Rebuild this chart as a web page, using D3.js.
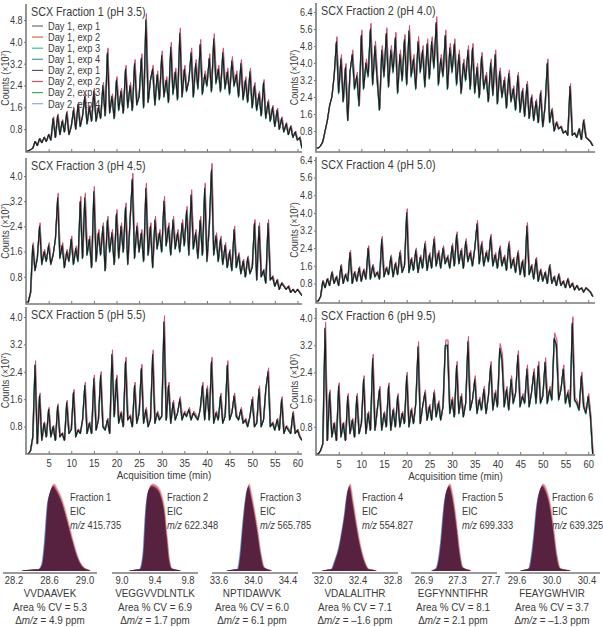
<!DOCTYPE html>
<html>
<head>
<meta charset="utf-8">
<script src="https://cdn.jsdelivr.net/npm/d3@7"></script>
<style>
  body { margin: 0; background: #fff; }
  svg { display: block; font-family: "Liberation Sans", Arial, sans-serif; }
  text { fill: #3a3a3a; }
</style>
</head>
<body>
<div id="chart"></div>
<script>
// TIC traces, one value every 0.5 min from 0 to 61 min (counts x10^7)
const timeStep = 0.5;
const fraction1 = [
  0, 0, 0.05, 0.1, 0.35, 0.2, 0.45, 0.3, 0.5, 0.35,
  0.6, 0.4, 1.2, 0.5, 1.3, 0.6, 1.1, 0.7, 1.4, 0.6,
  0.9, 1.5, 0.8, 1.7, 0.9, 1.3, 2.0, 1.0, 1.6, 1.1,
  2.2, 1.1, 1.6, 1.2, 2.4, 1.3, 3.6, 1.4, 2.0, 1.2,
  2.6, 1.5, 2.2, 1.4, 3.0, 1.6, 2.4, 1.5, 3.2, 1.7,
  2.0, 3.4, 1.6, 4.8, 1.8, 2.6, 3.0, 1.7, 2.8, 1.9,
  3.5, 2.0, 2.6, 1.8, 3.8, 2.1, 2.9, 1.9, 4.3, 2.0,
  3.0, 2.2, 2.6, 3.6, 2.0, 3.2, 2.3, 3.9, 2.1, 2.8,
  2.4, 3.4, 2.2, 4.1, 2.5, 3.0, 2.2, 3.6, 2.3, 2.9,
  2.1, 3.3, 2.4, 2.8, 2.0, 3.2, 1.9, 2.6, 1.8, 2.9,
  1.6, 2.4, 1.5, 2.1, 1.3, 2.5, 1.2, 1.8, 1.1, 1.6,
  0.9, 1.5, 0.8, 1.2, 0.7, 1.0, 0.6, 0.9, 0.5, 0.7,
  0.4, 0.5, 0.1
];
const fraction2 = [
  0, 0, 0.1, 0.3, 0.8, 1.3, 2.0, 2.4, 3.4, 5.0,
  2.6, 4.2, 2.2, 3.8, 1.3, 3.6, 4.4, 2.8, 3.4, 2.0,
  5.3, 2.8, 4.0, 3.4, 5.6, 3.0, 4.8, 3.2, 1.8, 4.6,
  3.4, 5.4, 2.9, 4.6, 3.6, 5.2, 2.6, 4.4, 3.2, 5.1,
  3.0, 5.5, 3.4, 4.2, 2.8, 5.0, 3.6, 4.6, 2.9, 4.9,
  3.3, 5.0, 3.8, 5.9, 3.0, 4.2, 3.4, 5.3, 2.8, 4.7,
  3.6, 4.9, 3.0, 4.4, 2.6, 4.0, 3.2, 4.6, 2.8, 4.7,
  2.6, 3.8, 2.4, 4.3, 2.8, 3.4, 2.2, 4.0, 2.5, 4.4,
  2.1, 3.6, 2.4, 3.2, 1.9, 3.5, 2.2, 2.8, 1.8, 3.4,
  1.7, 2.7, 1.5, 3.0, 1.4, 2.4, 1.3, 2.2, 1.2, 2.6,
  1.0, 2.0, 4.0, 1.2, 1.8, 0.8, 1.2, 0.9, 1.0, 0.7,
  0.8, 0.6, 2.9, 0.6, 0.7, 0.5, 0.9, 0.4, 1.3, 0.5,
  0.4, 0.3, 0.1
];
const fraction3 = [
  0, 0, 0.3, 1.8, 1.0, 1.4, 2.4, 1.2, 1.6, 1.3,
  1.8, 1.2, 1.5, 2.0, 3.3, 1.4, 1.8, 1.1, 1.6, 1.3,
  2.0, 1.2, 1.7, 1.3, 3.2, 1.4, 3.3, 1.5, 2.0, 1.1,
  3.5, 1.3, 2.2, 1.5, 2.4, 1.0, 2.6, 1.6, 2.2, 1.2,
  2.8, 1.4, 2.4, 1.6, 3.0, 1.2, 2.6, 3.9, 1.4, 2.4,
  1.6, 2.2, 1.3, 3.6, 1.5, 2.4, 1.1, 2.6, 1.7, 2.2,
  1.6, 3.2, 1.8, 2.4, 1.5, 2.6, 1.7, 2.2, 1.6, 2.5,
  1.8, 2.9, 1.5, 3.4, 1.7, 2.2, 1.4, 2.6, 1.5, 3.6,
  1.3, 2.4, 4.2, 1.5, 2.1, 1.3, 2.0, 1.2, 1.8, 1.1,
  1.6, 1.0, 2.3, 1.1, 1.5, 0.9, 1.3, 0.8, 1.4, 0.9,
  1.1, 2.5, 0.7, 2.4, 0.8, 1.0, 0.6, 2.5, 0.7, 0.8,
  0.5, 0.7, 0.4, 0.6, 0.5, 0.4, 0.5, 0.3, 0.4, 0.3,
  0.4, 0.3, 0.2
];
const fraction4 = [
  0, 0, 0.2, 0.9, 0.6, 1.0, 0.7, 1.3, 0.8, 1.1,
  0.7, 1.6, 0.8, 1.2, 0.9, 2.2, 0.8, 1.3, 0.9, 1.5,
  0.9, 1.4, 1.0, 2.4, 1.0, 1.6, 1.1, 1.3, 1.0, 2.8,
  1.1, 1.5, 1.2, 2.0, 1.1, 1.7, 1.2, 2.2, 1.3, 1.6,
  4.0, 1.3, 1.9, 1.4, 2.3, 1.3, 2.0, 1.5, 2.6, 1.4,
  2.1, 1.5, 2.8, 1.6, 2.2, 1.5, 2.4, 1.7, 2.0, 1.5,
  2.5, 1.6, 3.0, 1.7, 2.3, 1.5, 2.7, 1.8, 2.2, 1.6,
  2.4, 3.5, 1.7, 2.6, 1.6, 2.2, 1.8, 2.9, 1.6, 2.1,
  1.5, 2.4, 1.6, 2.0, 1.4, 2.6, 1.5, 1.9, 1.3, 2.2,
  1.2, 1.8, 1.1, 3.4, 1.2, 1.6, 1.0, 1.9, 0.9, 1.4,
  0.9, 1.3, 0.8, 1.6, 0.8, 1.1, 0.7, 1.2, 0.7, 0.9,
  0.6, 1.0, 0.6, 0.8, 0.5, 0.7, 0.5, 0.6, 0.4, 0.6,
  0.5, 0.4, 0.2
];
const fraction5 = [
  0, 0, 0.1, 0.5, 2.6, 0.3, 1.7, 0.4, 0.9, 0.5,
  1.3, 0.5, 0.8, 0.4, 1.4, 0.5, 0.6, 0.4, 1.5, 0.6,
  0.7, 1.8, 0.5, 0.7, 0.6, 1.0, 2.0, 0.6, 0.9, 0.6,
  2.2, 0.7, 1.0, 2.3, 0.8, 0.7, 1.0, 0.6, 2.9, 1.1,
  2.2, 0.9, 1.2, 0.8, 2.7, 1.0, 1.1, 0.8, 2.0, 0.9,
  1.2, 2.5, 0.9, 1.3, 0.8, 1.0, 2.9, 0.9, 1.2, 1.0,
  1.1, 3.85, 1.0, 2.0, 0.9, 1.5, 1.0, 1.2, 1.6, 1.0,
  1.2, 1.1, 1.3, 1.0, 1.2, 1.1, 1.0, 1.3, 2.0, 1.0,
  1.9, 1.0, 2.7, 0.9, 1.2, 1.0, 1.7, 0.9, 1.1, 2.6,
  1.0, 1.2, 1.7, 1.1, 1.0, 1.3, 0.9, 1.0, 0.8, 1.1,
  1.6, 0.8, 0.9, 1.9, 0.8, 1.0, 1.9, 2.4, 0.8, 0.9,
  0.7, 1.0, 0.7, 1.6, 0.6, 0.8, 0.7, 0.6, 1.2, 0.6,
  0.7, 0.5, 0.4
];
const fraction6 = [
  0, 0, 0.1, 0.3, 3.7, 0.4, 1.8, 0.5, 0.9, 0.4,
  2.0, 0.5, 0.9, 0.4, 1.7, 0.6, 1.0, 0.5, 1.7, 0.6,
  0.9, 2.2, 0.6, 1.2, 0.7, 2.8, 0.7, 1.3, 1.9, 0.7,
  1.2, 0.8, 2.0, 0.7, 1.3, 0.8, 1.7, 0.8, 1.2, 0.9,
  2.3, 0.8, 1.3, 0.9, 1.5, 3.15, 0.9, 1.4, 1.8, 1.0,
  1.4, 1.0, 1.8, 1.1, 1.5, 1.0, 1.4, 3.2, 3.2, 1.2,
  1.6, 1.1, 2.6, 1.2, 1.7, 1.1, 1.5, 3.3, 1.3, 1.6,
  2.2, 1.2, 1.6, 1.3, 1.9, 1.2, 1.7, 2.6, 1.3, 1.8,
  1.4, 3.1, 2.8, 1.4, 1.9, 1.3, 2.2, 1.5, 1.8, 2.9,
  1.4, 1.7, 1.5, 2.5, 1.4, 1.8, 2.4, 1.5, 2.6, 1.5,
  1.7, 2.7, 1.5, 1.9, 1.6, 3.4, 3.2, 1.6, 1.9, 2.5,
  1.5, 1.8, 1.4, 3.85, 1.6, 1.5, 1.3, 2.3, 1.4, 1.2,
  1.7, 1.1, 0.0
];

const panelTitles = ['SCX Fraction 1 (pH 3.5)', 'SCX Fraction 2 (pH 4.0)', 'SCX Fraction 3 (pH 4.5)',
  'SCX Fraction 4 (pH 5.0)', 'SCX Fraction 5 (pH 5.5)', 'SCX Fraction 6 (pH 9.5)'];
const countTicks48 = [0.8, 1.6, 2.4, 3.2, 4.0, 4.8];
const countTicks64 = [0.8, 1.6, 2.4, 3.2, 4.0, 4.8, 5.6, 6.4];
const countTicks40 = [0.8, 1.6, 2.4, 3.2, 4.0];
const timeTicks = [5, 10, 15, 20, 25, 30, 35, 40, 45, 50, 55, 60];

const replicates = ['Day 1, exp 1', 'Day 1, exp 2', 'Day 1, exp 3', 'Day 1, exp 4',
  'Day 2, exp 1', 'Day 2, exp 2', 'Day 2, exp 3', 'Day 2, exp 4'];
const replicateGain = [1.00, 1.04, 0.97, 1.01, 0.99, 1.05, 0.98, 1.00];
const replicateShift = [0, 0.1, -0.06, 0.05, -0.04, 0.12, -0.05, 0.06];

// EIC peaks (relative intensity, %)
const eicFractions = ['Fraction 1', 'Fraction 2', 'Fraction 3', 'Fraction 4', 'Fraction 5', 'Fraction 6'];
const eicMz = ['415.735', '622.348', '565.785', '554.827', '699.333', '639.325'];
const eicPeptides = ['VVDAAVEK', 'VEGGVVDLNTLK', 'NPTIDAWVK', 'VDALALITHR', 'EGFYNNTIFHR', 'FEAYGWHVIR'];
const eicAreaCV = ['5.3', '6.9', '6.0', '7.1', '8.1', '3.7'];
const eicMassError = ['4.9', '1.7', '6.1', '\u20131.6', '2.1', '\u20131.3'];
const eicTicks = [[28.2, 28.6, 29.0], [9.0, 9.4, 9.8], [33.6, 34.0, 34.4],
  [32.0, 32.4, 32.8], [26.9, 27.3, 27.7], [29.6, 30.0, 30.4]];
const eicTimes = [
  [28.3, 28.48, 28.52, 28.55, 28.58, 28.61, 28.64, 28.68, 28.74, 28.8, 28.86, 28.92, 28.98, 29.05],
  [9.1, 9.22, 9.26, 9.29, 9.32, 9.36, 9.42, 9.47, 9.51, 9.54, 9.57, 9.6, 9.7],
  [33.7, 33.82, 33.85, 33.88, 33.91, 33.94, 33.97, 34.0, 34.04, 34.08, 34.12, 34.2],
  [32.0, 32.1, 32.14, 32.19, 32.24, 32.3, 32.34, 32.38, 32.42, 32.47, 32.52, 32.6],
  [27.0, 27.05, 27.08, 27.11, 27.14, 27.17, 27.2, 27.23, 27.26, 27.29, 27.32, 27.36, 27.45],
  [29.65, 29.74, 29.77, 29.8, 29.83, 29.86, 29.89, 29.93, 29.97, 30.01, 30.05, 30.09, 30.2]
];
const eicIntensity = [
  [1, 2, 8, 35, 78, 94, 100, 94, 80, 58, 34, 14, 4, 1],
  [1, 2, 20, 70, 95, 100, 97, 88, 70, 40, 12, 3, 1],
  [1, 2, 20, 55, 85, 100, 88, 72, 48, 20, 4, 1],
  [1, 2, 12, 30, 60, 100, 78, 52, 30, 11, 2, 1],
  [1, 3, 15, 40, 75, 95, 100, 90, 72, 48, 22, 4, 1],
  [1, 3, 18, 45, 78, 95, 100, 93, 78, 50, 18, 3, 1]
];
const eicShift = [0.01, -0.014, -0.01, 0.008, 0.014, 0.006, -0.004, 0];
const eicGain = [0.9, 0.95, 0.97, 0.96, 1.03, 1.02, 0.98, 1.0];

const replicateColors = ['#6e6e6e', '#e2614a', '#3fbf95', '#5a90aa', '#5b4a86', '#cf4f6d', '#3aae5a', '#93a9dc'];
const eicColors = ['#b8b8b8', '#2a9a92', '#4f7ed0', '#2e8a70', '#ea707a', '#c84a6a', '#6a2a66', '#4a1a36'];
const squeeze = 0.86;

const width = 603, height = 627;

const svg = d3.select('#chart')
  .append('svg')
    .attr('width', width)
    .attr('height', height);

function addText(parent, x, y, size, anchor, rotate, sq) {
  return parent.append('text')
    .attr('transform', 'translate(' + x + ',' + y + ')' + (rotate ? ' rotate(' + rotate + ')' : '') + ' scale(' + (sq || squeeze) + ',1)')
    .attr('font-size', size)
    .attr('text-anchor', anchor || 'start');
}

const leftCol = { x: [26, 302], domain: [0, 61], label: 9 };
const rightCol = { x: [316, 595], domain: [0, 61.5], label: 298 };

const panels = [
  { data: fraction1, col: leftCol, top: 4, bottom: 152, y0: 151, yTop: 20, ticks: countTicks48 },
  { data: fraction2, col: rightCol, top: 3, bottom: 152, y0: 148, yTop: 12, ticks: countTicks64 },
  { data: fraction3, col: leftCol, top: 158, bottom: 304, y0: 302, yTop: 176, ticks: countTicks40 },
  { data: fraction4, col: rightCol, top: 157, bottom: 303, y0: 301, yTop: 160, ticks: countTicks64 },
  { data: fraction5, col: leftCol, top: 307, bottom: 454, y0: 454, yTop: 317, ticks: countTicks40, xLabels: true },
  { data: fraction6, col: rightCol, top: 308, bottom: 455, y0: 454, yTop: 318, ticks: countTicks40, xLabels: true }
];

panels.forEach((p, i) => {
  const c = p.col;
  const x = d3.scaleLinear().domain(c.domain).range(c.x);
  const y = d3.scaleLinear().domain([0, d3.max(p.ticks)]).range([p.y0, p.yTop]);
  const g = svg.append('g');

  g.append('clipPath')
    .attr('id', 'clip' + i)
    .append('rect')
      .attr('x', c.x[0]).attr('y', p.top)
      .attr('width', c.x[1] - c.x[0]).attr('height', p.bottom - p.top);

  const traces = g.append('g').attr('clip-path', 'url(#clip' + i + ')');
  replicates.forEach((r, k) => {
    const line = d3.line()
      .x((d, j) => x(Math.max(0, j * timeStep + replicateShift[k])))
      .y(d => y(d * replicateGain[k]));
    traces.append('path')
      .datum(p.data)
      .attr('d', line)
      .attr('fill', 'none')
      .attr('stroke', replicateColors[k])
      .attr('stroke-opacity', 0.75)
      .attr('stroke-width', 1)
      .attr('stroke-linejoin', 'round');
  });
  // darkest overlay where all replicates coincide
  traces.append('path')
    .datum(p.data)
    .attr('d', d3.line().x((d, j) => x(j * timeStep)).y(d => y(d)))
    .attr('fill', 'none')
    .attr('stroke', '#1c1c1c')
    .attr('stroke-width', 1.1)
    .attr('stroke-linejoin', 'round');

  g.append('g')
    .attr('transform', 'translate(' + c.x[0] + ',0)')
    .call(d3.axisLeft(y).tickValues(p.ticks).tickSize(2).tickPadding(2).tickFormat(d3.format('.1f')))
    .call(a => a.select('.domain').remove())
    .call(a => a.selectAll('line').attr('stroke', '#777'))
    .call(a => a.selectAll('text')
      .attr('font-size', 10.5)
      .attr('fill', '#3a3a3a')
      .attr('transform', 'scale(' + squeeze + ',1)'));

  const xa = g.append('g')
    .attr('transform', 'translate(0,' + p.bottom + ')')
    .call(d3.axisBottom(x).tickValues(timeTicks).tickSizeInner(-3).tickSizeOuter(0).tickPadding(5))
    .call(a => a.select('.domain').remove())
    .call(a => a.selectAll('line').attr('stroke', '#777'))
    .call(a => a.selectAll('text')
      .attr('font-size', 11)
      .attr('fill', '#3a3a3a')
      .attr('transform', 'scale(' + squeeze + ',1)'));
  if (!p.xLabels) xa.selectAll('text').remove();

  g.append('path')
    .attr('d', 'M' + c.x[0] + ',' + p.top + 'V' + p.bottom + 'H' + c.x[1])
    .attr('fill', 'none')
    .attr('stroke', '#7a7a7a')
    .attr('stroke-width', 1.6);

  addText(g, c.x[0] + 5, p.top + 12, 12.5).text(panelTitles[i]);

  addText(g, c.label, (p.top + p.bottom) / 2, 10.5, 'middle', -90)
    .text('Counts (\u00d710\u2077)');

  if (p.xLabels) {
    addText(g, (c.x[0] + c.x[1]) / 2, p.bottom + 25, 11.5, 'middle').text('Acquisition time (min)');
  }
});

// legend in first panel
const legend = svg.append('g').attr('transform', 'translate(32,26)');
replicates.forEach((r, k) => {
  const row = legend.append('g').attr('transform', 'translate(0,' + (k * 11.1) + ')');
  row.append('line')
    .attr('x1', 0).attr('x2', 11)
    .attr('stroke', replicateColors[k])
    .attr('stroke-width', 1.2);
  addText(row, 16, 3.8, 10.8).text(r);
});

// EIC panels
const eicLayout = [
  { ticks: [14, 85], line: [3, 97], label: 70, center: 50 },
  { ticks: [122, 188], line: [112, 198], label: 167, center: 155 },
  { ticks: [219, 288], line: [212, 298], label: 260, center: 252 },
  { ticks: [323, 393], line: [312, 398], label: 362, center: 355 },
  { ticks: [424, 491], line: [411, 497], label: 462, center: 453 },
  { ticks: [517, 587], line: [505, 600], label: 552, center: 552 }
];
const eicAxisY = 573;

eicLayout.forEach((L, i) => {
  const t = eicTicks[i];
  const x = d3.scaleLinear().domain([t[0], t[2]]).range(L.ticks);
  const y = d3.scaleLinear().domain([0, 100]).range([eicAxisY - 2, 486]);
  const g = svg.append('g');
  const pts = eicTimes[i].map((tm, j) => [tm, eicIntensity[i][j]]);

  eicColors.forEach((col, k) => {
    const area = d3.area()
      .x(d => x(d[0] + eicShift[k]))
      .y0(y(0))
      .y1(d => y(d[1] * eicGain[k]))
      .curve(d3.curveMonotoneX);
    g.append('path')
      .datum(pts)
      .attr('d', area)
      .attr('fill', col)
      .attr('fill-opacity', k === eicColors.length - 1 ? 0.8 : 0.6);
  });

  g.append('line')
    .attr('x1', L.line[0]).attr('x2', L.line[1])
    .attr('y1', eicAxisY).attr('y2', eicAxisY)
    .attr('stroke', '#7a7a7a').attr('stroke-width', 1.4);

  t.forEach(d => addText(g, x(d), eicAxisY + 11, 11, 'middle').text(d.toFixed(1)));

  addText(g, L.label, 501, 11.2, 'start', 0, 0.83).text(eicFractions[i]);
  addText(g, L.label, 515, 11.2, 'start', 0, 0.83).text('EIC');
  const mz = addText(g, L.label, 529, 11.2, 'start', 0, 0.83);
  mz.append('tspan').attr('font-style', 'italic').text('m/z');
  mz.append('tspan').text(' ' + eicMz[i]);

  addText(g, L.center, 597, 11.5, 'middle').text(eicPeptides[i]);
  addText(g, L.center, 611, 11.5, 'middle').text('Area % CV = ' + eicAreaCV[i]);
  const dm = addText(g, L.center, 624, 11.5, 'middle');
  dm.append('tspan').text('\u0394');
  dm.append('tspan').attr('font-style', 'italic').text('m/z');
  dm.append('tspan').text(' = ' + eicMassError[i] + ' ppm');
});
</script>
</body>
</html>
